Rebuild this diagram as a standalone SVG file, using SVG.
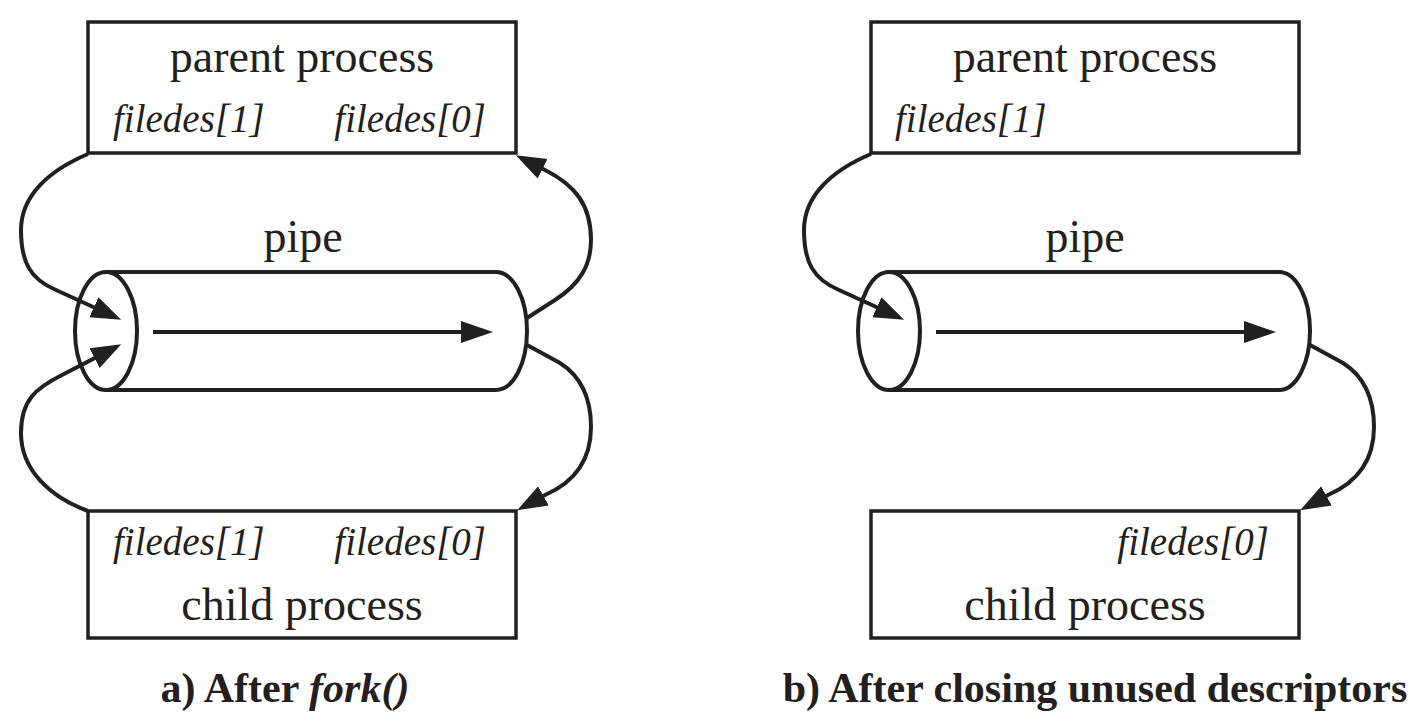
<svg xmlns="http://www.w3.org/2000/svg" width="1418" height="726" viewBox="0 0 1418 726">
<style>
.box{fill:#fff;stroke:#231f20;stroke-width:3.5}
.pipe{fill:#fff;stroke:#231f20;stroke-width:4}
.conn{fill:none;stroke:#231f20;stroke-width:4}
.t{font-family:"Liberation Serif","Times New Roman",serif;fill:#231f20}
.lbl{font-size:46px;text-anchor:middle}
.fd{font-size:39px;font-style:italic}
.cap{font-size:42px;font-weight:bold;text-anchor:middle}
</style>
<defs>
<marker id="ah" markerUnits="userSpaceOnUse" markerWidth="32" markerHeight="24" refX="24" refY="11" orient="auto">
<path d="M0,0 L30,11 L0,22 Z" fill="#231f20"/>
</marker>
</defs>
<rect width="1418" height="726" fill="#fff"/>

<g id="parent-a">
<rect class="box" x="88" y="22" width="428" height="131"/>
<text class="t lbl" x="302" y="72">parent process</text>
<text class="t fd" x="113" y="132">filedes[1]</text>
<text class="t fd" x="486" y="132" text-anchor="end">filedes[0]</text>
</g>
<g id="pipe-a">
<path class="pipe" d="M106,272 H496 A31,59 0 0 1 496,390 H106"/>
<ellipse class="pipe" cx="106" cy="331" rx="31" ry="59"/>
<text class="t lbl" x="303" y="252">pipe</text>
<line class="conn" x1="153" y1="332" x2="468" y2="332"/>
<path d="M493,332 L461,321 L461,343 Z" fill="#231f20"/>
</g>
<g id="child-a">
<rect class="box" x="88" y="511" width="428" height="127"/>
<text class="t fd" x="113" y="555">filedes[1]</text>
<text class="t fd" x="486" y="555" text-anchor="end">filedes[0]</text>
<text class="t lbl" x="302" y="620">child process</text>
</g>
<g id="caption-a">
<text class="t cap" x="285" y="702">a) After <tspan font-style="italic">fork()</tspan></text>
</g>

<g id="parent-b">
<rect class="box" x="871" y="22" width="428" height="131"/>
<text class="t lbl" x="1085" y="72">parent process</text>
<text class="t fd" x="895" y="132">filedes[1]</text>
</g>
<g id="pipe-b">
<path class="pipe" d="M889,272 H1279 A31,59 0 0 1 1279,390 H889"/>
<ellipse class="pipe" cx="889" cy="331" rx="31" ry="59"/>
<text class="t lbl" x="1085" y="252">pipe</text>
<line class="conn" x1="936" y1="332" x2="1251" y2="332"/>
<path d="M1276,332 L1244,321 L1244,343 Z" fill="#231f20"/>
</g>
<g id="child-b">
<rect class="box" x="871" y="511" width="428" height="127"/>
<text class="t fd" x="1269" y="555" text-anchor="end">filedes[0]</text>
<text class="t lbl" x="1085" y="620">child process</text>
</g>
<g id="caption-b">
<text class="t cap" x="1095" y="702">b) After closing unused descriptors</text>
</g>

<g id="connectors">
<path class="conn" marker-end="url(#ah)" d="M88,154 C50,170 21,195 21,230 C21,262 30,279 56,290 L115.7,317.3"/>
<path class="conn" marker-end="url(#ah)" d="M88,511 C50,497 21,470 21,433 C21,400 36,388 62,375 L115.9,347.1"/>
<path class="conn" marker-end="url(#ah)" d="M527,318 L555,300 C580,284 591,265 591,240 C591,205 575,185 545,170 L521.2,157.9"/>
<path class="conn" marker-end="url(#ah)" d="M527,345 L560,363 C582,377 591,400 591,427 C591,460 575,482 545,495 L522.4,507.4"/>
<path class="conn" marker-end="url(#ah)" d="M871,154 C833,170 804,195 804,230 C804,262 813,279 839,290 L898.7,317.3"/>
<path class="conn" marker-end="url(#ah)" d="M1310,345 L1343,363 C1365,377 1374,400 1374,427 C1374,460 1358,482 1328,495 L1305.4,507.4"/>
</g>
</svg>
